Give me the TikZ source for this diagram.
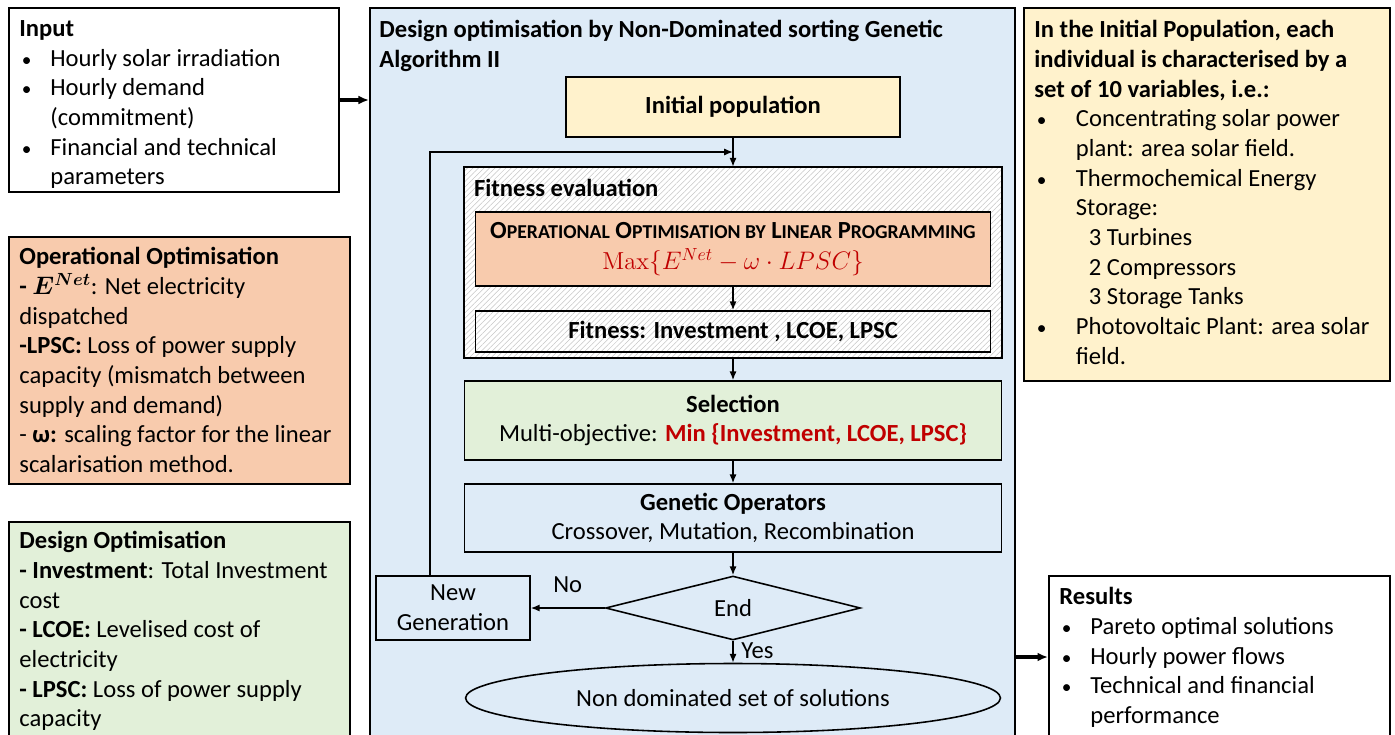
\documentclass[tikz,border=0pt]{standalone}
\usepackage{fontspec}
\setmainfont{Carlito}
\usepackage{amsmath}
\usetikzlibrary{arrows.meta,fit,shapes.geometric,patterns.meta}

\definecolor{bgblue}{HTML}{DEEBF7}
\definecolor{oporange}{HTML}{F8CBAD}
\definecolor{desgreen}{HTML}{E2F0D9}
\definecolor{popyellow}{HTML}{FFF2CC}
\definecolor{darkred}{HTML}{C00000}

\newcommand{\bul}[1][0.62cm]{\makebox[#1][l]{\hspace{0.05cm}{\fontsize{11}{11}\selectfont\textbullet}}}
\newcommand{\ind}[1][0.62cm]{\hspace*{#1}}
\newcommand{\lowcaps}[1]{{\fontsize{11.2}{12}\selectfont #1}}

\begin{document}
\begin{tikzpicture}
		[x=0.02cm,y=-0.02cm,
		every node/.style={font=\fontsize{14}{16.9}\selectfont},
		box/.style={draw=black,line width=1.1pt,inner sep=0pt},
		flow/.style={draw=black,line width=0.9pt,inner sep=0pt,align=center},
		txt/.style={anchor=north west,align=left,inner sep=0pt},
		hatch/.style={preaction={fill=white},pattern={Lines[angle=45,distance=2.2pt,line width=0.3pt]},pattern color=gray!45},
		arr/.style={-{Latex[length=5pt,width=4pt]},line width=0.8pt},
		bigarr/.style={-{Latex[length=6pt,width=5pt]},line width=1.8pt}]

		\useasboundingbox (0,0) rectangle (1395,734);
		\clip (0,0) rectangle (1395,734);

		% left column
		\node[box,fit={(9,8) (339,192)}] (input) {};
		\node[txt] (inputtxt) at ([shift={(11,13)}]input.north west) {\textbf{Input}\\
			\bul Hourly solar irradiation\\
			\bul Hourly demand\\
			\ind (commitment)\\
			\bul Financial and technical\\
			\ind parameters};

		\node[box,fill=oporange,fit={(9,237) (350,484)}] (opopt) {};
		\node[txt] (opopttxt) at ([shift={(11,11)}]opopt.north west) {\textbf{Operational Optimisation}\\
			\textbf{- }{\boldmath$E^{Net}$}: Net electricity\\
			dispatched\\
			\textbf{-LPSC:} Loss of power supply\\
			capacity (mismatch between\\
			supply and demand)\\
			- \textbf{ω:} scaling factor for the linear\\
			scalarisation method.};

		\node[box,fill=desgreen,fit={(9,522) (350,760)}] (desopt) {};
		\node[txt] (desopttxt) at ([shift={(11,10)}]desopt.north west) {\textbf{Design Optimisation}\\
			\textbf{- Investment}: Total Investment\\
			cost\\
			\textbf{- LCOE:} Levelised cost of\\
			electricity\\
			\textbf{- LPSC:} Loss of power supply\\
			capacity};

		% NSGA-II
		\node[box,fill=bgblue,fit={(370,8) (1015,760)}] (nsga) {};
		\node[txt] (nsgatxt) at ([shift={(10,13)}]nsga.north west) {\textbf{Design optimisation by Non-Dominated sorting Genetic}\\
			\textbf{Algorithm II}};

		\node[flow,fill=popyellow,minimum width=6.68cm,minimum height=1.2cm] (initpop) at (733,107) {\textbf{Initial population}};

		\node[flow,hatch,fit={(464,167) (1002,358)}] (fiteval) {};
		\node[txt] (fitevaltxt) at ([shift={(10,12)}]fiteval.north west) {\textbf{Fitness evaluation}};
		\node[flow,fill=oporange,minimum width=10.3cm,minimum height=1.48cm] (lp) at (733,249) {\textbf{O\lowcaps{PERATIONAL} O\lowcaps{PTIMISATION BY} L\lowcaps{INEAR} P\lowcaps{ROGRAMMING}}\\[1pt]
			\color{darkred}$\mbox{\fontfamily{lmr}\selectfont Max}\{E^{Net}-\omega\cdot LPSC\}$};
		\node[flow,hatch,minimum width=10.3cm,minimum height=0.82cm] (fitness) at (733,331.5) {\textbf{Fitness: Investment , LCOE, LPSC}};

		\node[flow,fill=desgreen,minimum width=10.74cm,minimum height=1.58cm] (select) at (733,420.5) {\textbf{Selection}\\
			Multi-objective: \textcolor{darkred}{\textbf{Min \{Investment, LCOE, LPSC\}}}};
		\node[flow,fill=bgblue,minimum width=10.74cm,minimum height=1.36cm] (genop) at (733,518) {\textbf{Genetic Operators}\\
			Crossover, Mutation, Recombination};

		\node[flow,diamond,minimum width=5.1cm,minimum height=1.28cm] (endq) at (733,608) {End};
		\node[flow,minimum width=3.08cm,minimum height=1.28cm] (newgen) at (453,608) {New\\ Generation};
		\node[flow,ellipse,minimum width=10.7cm,minimum height=1.38cm] (nondom) at (733,698) {Non dominated set of solutions};

		\coordinate (loop) at (430,152);

		% right column
		\node[box,fill=popyellow,fit={(1024,8) (1390,381)}] (indiv) {};
		\node[txt] (indivtxt) at ([shift={(11,13)}]indiv.north west) {\textbf{In the Initial Population, each}\\
			\textbf{individual is characterised by a}\\
			\textbf{set of 10 variables, i.e.:}\\
			\bul[0.72cm] Concentrating solar power\\
			\ind[0.72cm] plant: area solar field.\\
			\bul[0.72cm] Thermochemical Energy\\
			\ind[0.72cm] Storage:\\
			\ind[0.98cm] 3 Turbines\\
			\ind[0.98cm] 2 Compressors\\
			\ind[0.98cm] 3 Storage Tanks\\
			\bul[0.72cm] Photovoltaic Plant: area solar\\
			\ind[0.72cm] field.};

		\node[box,fit={(1049,576) (1390,760)}] (results) {};
		\node[txt] (resultstxt) at ([shift={(11,12)}]results.north west) {\textbf{Results}\\
			\bul Pareto optimal solutions\\
			\bul Hourly power flows\\
			\bul Technical and financial\\
			\ind performance};

		% connectors
		\draw[bigarr] (input.east) -- (input.east -| nsga.west);
		\draw[bigarr] (nsga.east |- 0,657) -- (results.west |- 0,657);

		\draw[arr] (initpop.south) -- (fiteval.north -| initpop.south);
		\draw[arr] (newgen.north -| loop) -- (loop) -- (loop -| initpop.south);
		\draw[arr] (lp.south) -- (fitness.north);
		\draw[arr] (fiteval.south) -- (select.north);
		\draw[arr] (select.south) -- (genop.north);
		\draw[arr] (genop.south) -- (endq.north);
		\draw[arr] (endq.west) -- node[above,pos=0.5,yshift=5pt] (nolbl) {No} (newgen.east);
		\draw[arr] (endq.south) -- node[right,pos=0.45,xshift=1pt] (yeslbl) {Yes} (nondom.north);

	\end{tikzpicture}
\end{document}
